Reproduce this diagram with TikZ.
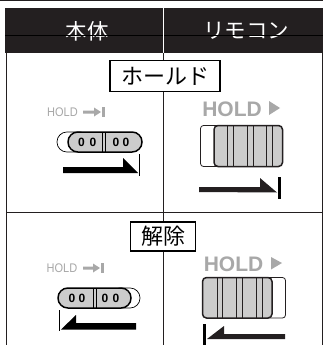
\documentclass[tikz,border=0pt]{standalone}
\usepackage{fontspec}
\setmainfont{Liberation Sans}
\newfontfamily\cjk{Noto Sans CJK JP}
\definecolor{hdr}{HTML}{231F20}
\definecolor{holdgray}{HTML}{A8A8A8}
\definecolor{knob}{HTML}{CCCCCC}
\tikzset{
  frameln/.style={draw=hdr,line width=1pt},
  headtxt/.style={text=white,font=\cjk\fontsize{21.5}{21.5}\selectfont,inner sep=0pt},
  labelbox/.style={draw=black,fill=white,line width=1.2pt,font=\cjk\fontsize{22}{22}\selectfont,inner sep=0pt,anchor=center},
  holdsmall/.style={text=holdgray,font=\fontsize{12.5}{12.5}\selectfont,inner sep=0pt,xscale=.88},
  holdbig/.style={text=holdgray,font=\bfseries\fontsize{21}{21}\selectfont,inner sep=0pt},
  numtxt/.style={font=\bfseries\fontsize{12}{12}\selectfont,inner sep=0pt},
  knobln/.style={draw=hdr,line width=1pt},
}
\begin{document}
\begin{tikzpicture}[x=1pt,y=-1pt]
\useasboundingbox (0,0) rectangle (323,345);
\fill[white] (0,0) rectangle (323,345);
\fill[hdr] (0,0) rectangle (323,1);
\fill[hdr] (5,8) rectangle (323,53.5);
\node[headtxt] (hbody) at (87,31) {本体};
\node[headtxt] (hremote) at (246,31) {リモコン};
\draw[black,line width=0.7pt] (5,35) -- (323,35);
\draw[white,line width=1pt] (163.5,8) -- (163.5,53);
\draw[frameln] (6.5,53) -- (6.5,345);
\draw[frameln] (163.5,53) -- (163.5,345);
\draw[draw=hdr,line width=0.7pt] (322,53) -- (322,345);
\draw[frameln] (6,212) -- (323,212);
\node[labelbox,minimum width=110pt,minimum height=31pt] (hold) at (165,76) {ホールド};
\node[labelbox,minimum width=65pt,minimum height=29pt] (rel) at (163,236.5) {解除};
% left top
\node[holdsmall] (h1) at (62.5,112) {HOLD};
\fill[holdgray] (83,110.5) -- (94,110.5) -- (94,107.5) -- (101,112) -- (94,116.5) -- (94,113.5) -- (83,113.5) -- cycle;
\fill[holdgray] (102,106.5) rectangle (105,117);
\draw[black,line width=0.7pt,fill=white,rounded corners=9.9pt] (57,132) rectangle (90,152);
\draw[black,line width=1.5pt,fill=knob,rounded corners=9.9pt] (68,132) rectangle (142,152);
\draw[black,line width=1pt] (102.5,132) -- (102.5,152) (105.7,132) -- (105.7,152);
\node[numtxt] at (81.5,142) {0};
\node[numtxt] at (93,142) {0};
\node[numtxt] at (116,142) {0};
\node[numtxt] at (126,142) {0};
\fill[black] (63,167) -- (123,167) -- (123,158) -- (138,173) -- (63,173) -- cycle;
\draw[black,line width=1pt] (139.5,154) -- (139.5,176);
% right top
\node[holdbig] (h2) at (232,109.5) {HOLD};
\fill[holdgray] (269,101) -- (280,108) -- (269,115) -- cycle;
\draw[hdr,line width=0.8pt,fill=white,rounded corners=3pt] (200.5,125.5) rectangle (260,166.5);
\draw[hdr,line width=1.5pt,fill=knob,rounded corners=4pt] (214,125.5) rectangle (282.5,166.5);
\draw[hdr,line width=1pt] (227,126) -- (227,166) (233,126) -- (233,166) (247,126) -- (247,166) (253,126) -- (253,166) (266,126) -- (266,166) (272,126) -- (272,166);
\fill[hdr] (199,187) -- (260,187) -- (260,178) -- (277,192.5) -- (199,192) -- cycle;
\fill[black] (278,177) rectangle (281,199);
% left bottom
\node[holdsmall] (h3) at (62,268) {HOLD};
\fill[holdgray] (83,266.5) -- (93,266.5) -- (93,263.5) -- (100,268) -- (93,272.5) -- (93,269.5) -- (83,269.5) -- cycle;
\fill[holdgray] (101,262.5) rectangle (104,273);
\draw[black,line width=0.7pt,fill=white,rounded corners=9.9pt] (110,288) rectangle (140,308);
\draw[black,line width=1.5pt,fill=knob,rounded corners=9.9pt] (58,288) rectangle (131,308);
\draw[black,line width=1pt] (93,288) -- (93,308) (96.3,288) -- (96.3,308);
\node[numtxt] at (72,298) {0};
\node[numtxt] at (82,298) {0};
\node[numtxt] at (105,298) {0};
\node[numtxt] at (116,298) {0};
\fill[black] (136,323) -- (76,323) -- (76,315) -- (61,329.5) -- (136,329.5) -- cycle;
\draw[black,line width=1pt] (59.5,310) -- (59.5,331);
% right bottom
\node[holdbig] (h4) at (233.5,264) {HOLD};
\fill[holdgray] (271,257) -- (282,263) -- (271,269.5) -- cycle;
\draw[hdr,line width=0.8pt,fill=white,rounded corners=3pt] (250,277.5) rectangle (285.5,318);
\draw[hdr,line width=1.5pt,fill=knob,rounded corners=4pt] (202.5,277.5) rectangle (272,318);
\draw[hdr,line width=1pt] (217,278) -- (217,318) (222,278) -- (222,318) (236,278) -- (236,318) (242,278) -- (242,318) (256,278) -- (256,318) (262,278) -- (262,318);
\fill[hdr] (285,334) -- (224,334) -- (224,326) -- (207,339) -- (285,339) -- cycle;
\fill[black] (203,324) rectangle (206,345);
\end{tikzpicture}
\end{document}
